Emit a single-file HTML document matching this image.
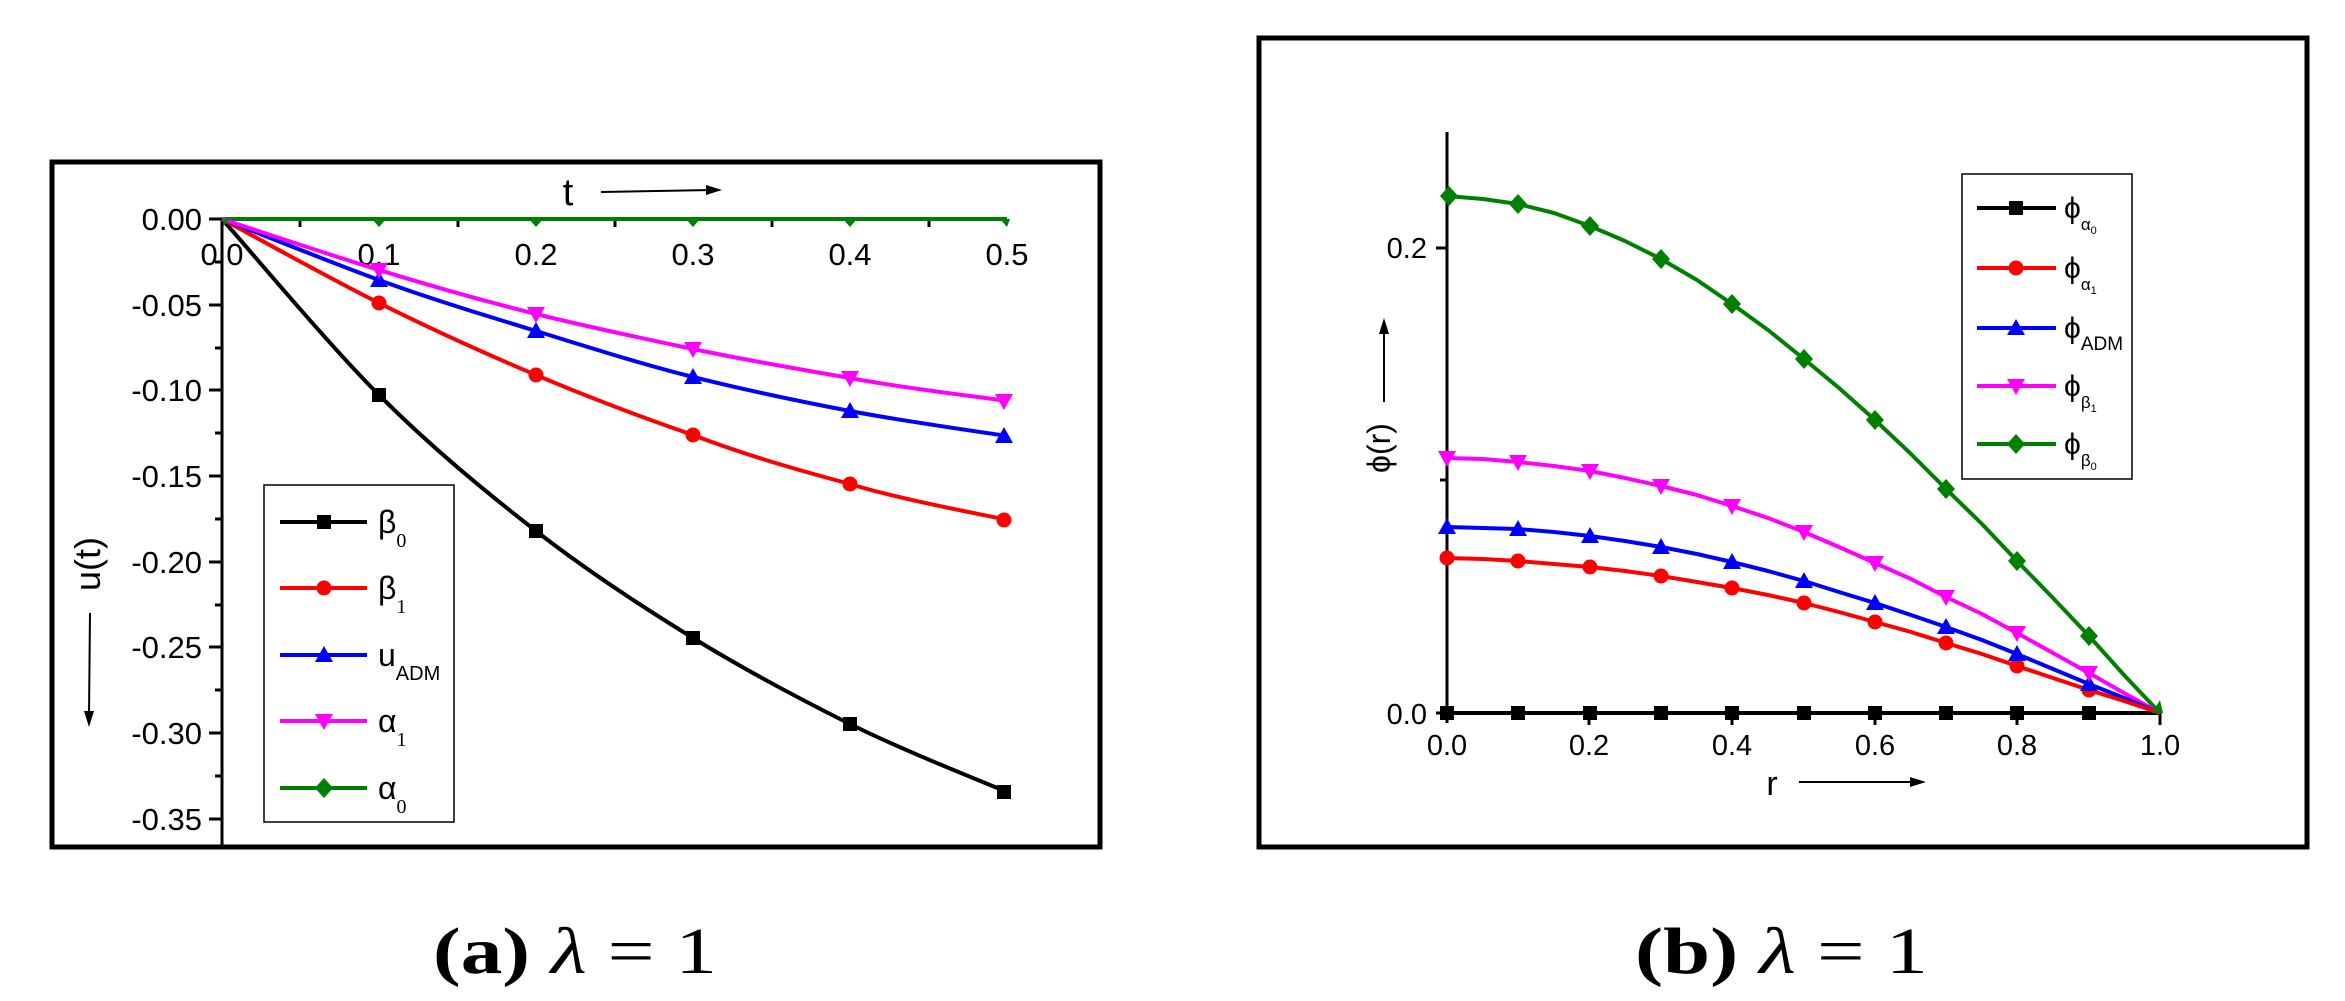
<!DOCTYPE html>
<html><head><meta charset="utf-8"><style>
html,body{margin:0;padding:0;background:#fff;}
svg{display:block;}
text{font-family:"Liberation Sans",sans-serif;}
</style></head><body>
<svg width="2345" height="1001" viewBox="0 0 2345 1001" xmlns="http://www.w3.org/2000/svg">
<defs>
<path id="sq" d="M-7,-7h14v14h-14z"/>
<circle id="ci" r="7.5"/>
<path id="tu" d="M0,-9L9,7H-9z"/>
<path id="td" d="M0,9L9,-7H-9z"/>
<path id="di" d="M0,-10L9,0L0,10L-9,0z"/>
</defs>
<!-- LEFT PANEL -->
<rect x="52" y="162" width="1048" height="685" fill="none" stroke="#000" stroke-width="5"/>
<g stroke="#000" stroke-width="3">
<line x1="222" y1="219" x2="222" y2="847"/>
<line x1="222" y1="219" x2="1007" y2="219"/>
<line x1="209" y1="219" x2="222" y2="219"/><line x1="209" y1="305" x2="222" y2="305"/>
<line x1="209" y1="390" x2="222" y2="390"/><line x1="209" y1="476" x2="222" y2="476"/>
<line x1="209" y1="562" x2="222" y2="562"/><line x1="209" y1="647" x2="222" y2="647"/>
<line x1="209" y1="733" x2="222" y2="733"/><line x1="209" y1="819" x2="222" y2="819"/>
<line x1="215" y1="262" x2="222" y2="262"/><line x1="215" y1="348" x2="222" y2="348"/>
<line x1="215" y1="433" x2="222" y2="433"/><line x1="215" y1="519" x2="222" y2="519"/>
<line x1="215" y1="605" x2="222" y2="605"/><line x1="215" y1="690" x2="222" y2="690"/>
<line x1="215" y1="776" x2="222" y2="776"/>
<line x1="300" y1="219" x2="300" y2="227"/><line x1="458" y1="219" x2="458" y2="227"/>
<line x1="615" y1="219" x2="615" y2="227"/><line x1="772" y1="219" x2="772" y2="227"/>
<line x1="929" y1="219" x2="929" y2="227"/>
<line x1="222" y1="219" x2="222" y2="232"/>
</g>
<g font-size="31" text-anchor="end">
<text x="202" y="230">0.00</text><text x="202" y="316">-0.05</text>
<text x="202" y="401">-0.10</text><text x="202" y="487">-0.15</text>
<text x="202" y="573">-0.20</text><text x="202" y="658">-0.25</text>
<text x="202" y="744">-0.30</text><text x="202" y="830">-0.35</text>
</g>
<g font-size="31" text-anchor="middle">
<text x="222" y="265">0.0</text><text x="379" y="265">0.1</text><text x="536" y="265">0.2</text>
<text x="693" y="265">0.3</text><text x="850" y="265">0.4</text><text x="1007" y="265">0.5</text>
</g>
<text x="568" y="205" font-size="38" text-anchor="middle">t</text>
<line x1="601" y1="192" x2="712" y2="190" stroke="#000" stroke-width="2"/>
<path d="M722,190 L706,185 L706,195z" fill="#000"/>
<text transform="translate(100,564) rotate(-90)" font-size="36" text-anchor="middle">u(t)</text>
<line x1="90" y1="613" x2="89" y2="715" stroke="#000" stroke-width="2"/>
<path d="M89,727 L84,711 L94,711z" fill="#000"/>
<g fill="none" stroke-width="4" stroke-linejoin="round">
<path stroke="#008000" d="M222,219L1007,219"/>
<path stroke="#000" d="M222,219 C248,248 327,343 379,395 C431,447 484,490.5 536,531 C588,571.5 641,606 693,638 C745,670 798,698 850,724 C902,750 981,781 1007,792"/>
<path stroke="#f00" d="M222,219 C248,233 327,277 379,303 C431,329 484,353 536,375 C588,397 641,417 693,435 C745,455 798,470 850,484 C902,500 981,514 1007,520"/>
<path stroke="#00f" d="M222,219 C248,229 327,261 379,280 C431,299 484,315 536,331 C588,347 641,364 693,377 C745,390 798,401 850,411 C902,421 981,432 1007,436"/>
<path stroke="#f0f" d="M222,219 C248,227.5 327,254 379,270 C431,286 484,301 536,314 C588,327 641,338 693,349 C745,360 798,369 850,378 C902,388 981,397 1007,401"/>
</g>
<g fill="#000"><use href="#sq" x="379" y="395"/><use href="#sq" x="536" y="531"/><use href="#sq" x="693" y="638"/><use href="#sq" x="850" y="724"/><use href="#sq" x="1004" y="792"/></g>
<g fill="#f00"><use href="#ci" x="379" y="303"/><use href="#ci" x="536" y="375"/><use href="#ci" x="693" y="435"/><use href="#ci" x="850" y="484"/><use href="#ci" x="1004" y="520"/></g>
<g fill="#00f"><use href="#tu" x="379" y="280"/><use href="#tu" x="536" y="331"/><use href="#tu" x="693" y="377"/><use href="#tu" x="850" y="411"/><use href="#tu" x="1004" y="436"/></g>
<g fill="#f0f"><use href="#td" x="379" y="270"/><use href="#td" x="536" y="314"/><use href="#td" x="693" y="349"/><use href="#td" x="850" y="378"/><use href="#td" x="1004" y="401"/></g>
<g fill="#008000"><path d="M372,219h14l-7,8z"/><path d="M529,219h14l-7,8z"/><path d="M686,219h14l-7,8z"/><path d="M843,219h14l-7,8z"/><path d="M1000,219h10l-3,8z"/><path d="M222,219h8l-6,7z"/></g>
<rect x="264" y="485" width="190" height="337" fill="#fff" stroke="#000" stroke-width="1.5"/>
<g stroke-width="4">
<line x1="280" y1="522" x2="367" y2="522" stroke="#000"/>
<line x1="280" y1="588" x2="367" y2="588" stroke="#f00"/>
<line x1="280" y1="655" x2="367" y2="655" stroke="#00f"/>
<line x1="280" y1="721" x2="367" y2="721" stroke="#f0f"/>
<line x1="280" y1="788" x2="367" y2="788" stroke="#008000"/>
</g>
<use href="#sq" x="324" y="522" fill="#000"/><use href="#ci" x="324" y="588" fill="#f00"/>
<use href="#tu" x="324" y="655" fill="#00f"/><use href="#td" x="324" y="721" fill="#f0f"/>
<use href="#di" x="324" y="788" fill="#008000"/>
<g font-size="32">
<text x="378" y="533">β<tspan font-size="20" style="font-family:'Liberation Serif',serif" dy="14">0</tspan></text>
<text x="378" y="599">β<tspan font-size="20" style="font-family:'Liberation Serif',serif" dy="14">1</tspan></text>
<text x="378" y="666">u<tspan font-size="20" dy="14">ADM</tspan></text>
<text x="378" y="732">α<tspan font-size="20" style="font-family:'Liberation Serif',serif" dy="14">1</tspan></text>
<text x="378" y="799">α<tspan font-size="20" style="font-family:'Liberation Serif',serif" dy="14">0</tspan></text>
</g>

<!-- RIGHT PANEL -->
<rect x="1259" y="38" width="1048" height="809" fill="none" stroke="#000" stroke-width="5"/>
<g stroke="#000" stroke-width="3">
<line x1="1447" y1="132" x2="1447" y2="723"/>
<line x1="1436" y1="713" x2="2160" y2="713"/>
<line x1="1436" y1="248" x2="1447" y2="248"/>
<line x1="1440" y1="480" x2="1447" y2="480"/>
<line x1="1589" y1="713" x2="1589" y2="725"/><line x1="1732" y1="713" x2="1732" y2="725"/>
<line x1="1875" y1="713" x2="1875" y2="725"/><line x1="2017" y1="713" x2="2017" y2="725"/>
<line x1="2160" y1="713" x2="2160" y2="725"/>
<line x1="1518" y1="713" x2="1518" y2="720"/><line x1="1661" y1="713" x2="1661" y2="720"/>
<line x1="1804" y1="713" x2="1804" y2="720"/><line x1="1946" y1="713" x2="1946" y2="720"/>
<line x1="2089" y1="713" x2="2089" y2="720"/>
</g>
<g font-size="29" text-anchor="end"><text x="1427" y="724">0.0</text><text x="1427" y="258">0.2</text></g>
<g font-size="29" text-anchor="middle">
<text x="1447" y="755">0.0</text><text x="1589" y="755">0.2</text><text x="1732" y="755">0.4</text>
<text x="1875" y="755">0.6</text><text x="2017" y="755">0.8</text><text x="2160" y="755">1.0</text>
</g>
<text x="1772" y="795" font-size="34" text-anchor="middle">r</text>
<line x1="1799" y1="782" x2="1914" y2="782" stroke="#000" stroke-width="2"/>
<path d="M1926,782 L1910,777 L1910,787z" fill="#000"/>
<text transform="translate(1390,448) rotate(-90)" font-size="32" text-anchor="middle">ϕ(r)</text>
<line x1="1384" y1="402" x2="1384" y2="330" stroke="#000" stroke-width="2"/>
<path d="M1384,318 L1379,334 L1389,334z" fill="#000"/>
<g fill="none" stroke-width="4" stroke-linejoin="round">
<path stroke="#000" d="M1447,713L2160,713"/>
<polyline stroke="#008000" points="1447,196 1483,199 1518,204 1554,213 1590,226 1625,241 1661,259 1697,280 1732,304 1768,330 1804,359 1839,388 1875,420 1911,454 1946,489 1982,524 2017,561 2053,598 2089,636 2124,675 2160,713"/>
<polyline stroke="#f0f" points="1447,458 1483,459 1518,462 1554,466 1590,471 1625,478 1661,486 1697,495 1732,506 1768,518 1804,532 1839,547 1875,563 1911,579 1946,597 1982,614 2017,633 2053,653 2089,673 2124,693 2160,713"/>
<polyline stroke="#00f" points="1447,527 1483,528 1518,529 1554,532 1590,536 1625,541 1661,547 1697,554 1732,562 1768,571 1804,581 1839,592 1875,603 1911,615 1946,627 1982,640 2017,654 2053,669 2089,684 2124,698 2160,713"/>
<polyline stroke="#f00" points="1447,558 1483,559 1518,561 1554,564 1590,567 1625,571 1661,576 1697,582 1732,588 1768,595 1804,603 1839,612 1875,622 1911,632 1946,643 1982,654 2017,666 2053,678 2089,690 2124,701 2160,713"/>
</g>
<g fill="#000"><use href="#sq" x="1447" y="713"/><use href="#sq" x="1518" y="713"/><use href="#sq" x="1590" y="713"/><use href="#sq" x="1661" y="713"/><use href="#sq" x="1732" y="713"/><use href="#sq" x="1804" y="713"/><use href="#sq" x="1875" y="713"/><use href="#sq" x="1946" y="713"/><use href="#sq" x="2017" y="713"/><use href="#sq" x="2089" y="713"/></g>
<g fill="#f00"><use href="#ci" x="1447" y="558"/><use href="#ci" x="1518" y="561"/><use href="#ci" x="1590" y="567"/><use href="#ci" x="1661" y="576"/><use href="#ci" x="1732" y="588"/><use href="#ci" x="1804" y="603"/><use href="#ci" x="1875" y="622"/><use href="#ci" x="1946" y="643"/><use href="#ci" x="2017" y="666"/><use href="#ci" x="2089" y="690"/></g>
<g fill="#00f"><use href="#tu" x="1447" y="527"/><use href="#tu" x="1518" y="529"/><use href="#tu" x="1590" y="536"/><use href="#tu" x="1661" y="547"/><use href="#tu" x="1732" y="562"/><use href="#tu" x="1804" y="581"/><use href="#tu" x="1875" y="603"/><use href="#tu" x="1946" y="627"/><use href="#tu" x="2017" y="654"/><use href="#tu" x="2089" y="684"/></g>
<g fill="#f0f"><use href="#td" x="1447" y="458"/><use href="#td" x="1518" y="462"/><use href="#td" x="1590" y="471"/><use href="#td" x="1661" y="486"/><use href="#td" x="1732" y="506"/><use href="#td" x="1804" y="532"/><use href="#td" x="1875" y="563"/><use href="#td" x="1946" y="597"/><use href="#td" x="2017" y="633"/><use href="#td" x="2089" y="673"/></g>
<g fill="#008000"><use href="#di" x="1449" y="196"/><use href="#di" x="1518" y="204"/><use href="#di" x="1590" y="226"/><use href="#di" x="1661" y="259"/><use href="#di" x="1732" y="304"/><use href="#di" x="1804" y="359"/><use href="#di" x="1875" y="420"/><use href="#di" x="1946" y="489"/><use href="#di" x="2017" y="561"/><use href="#di" x="2089" y="636"/><path d="M2152,713L2160,700L2163,713z"/></g>
<rect x="1962" y="174" width="170" height="305" fill="#fff" stroke="#000" stroke-width="1.5"/>
<g stroke-width="4">
<line x1="1977" y1="208" x2="2056" y2="208" stroke="#000"/>
<line x1="1977" y1="268" x2="2056" y2="268" stroke="#f00"/>
<line x1="1977" y1="328" x2="2056" y2="328" stroke="#00f"/>
<line x1="1977" y1="386" x2="2056" y2="386" stroke="#f0f"/>
<line x1="1977" y1="444" x2="2056" y2="444" stroke="#008000"/>
</g>
<use href="#sq" x="2016" y="208" fill="#000"/><use href="#ci" x="2016" y="268" fill="#f00"/>
<use href="#tu" x="2016" y="328" fill="#00f"/><use href="#td" x="2016" y="386" fill="#f0f"/>
<use href="#di" x="2016" y="444" fill="#008000"/>
<g font-size="30">
<text x="2064" y="218">ϕ<tspan font-size="17" dy="12">α</tspan><tspan font-size="11" dy="4">0</tspan></text>
<text x="2064" y="278">ϕ<tspan font-size="17" dy="12">α</tspan><tspan font-size="11" dy="4">1</tspan></text>
<text x="2064" y="338">ϕ<tspan font-size="19" dy="12">ADM</tspan></text>
<text x="2064" y="396">ϕ<tspan font-size="17" dy="12">β</tspan><tspan font-size="11" dy="4">1</tspan></text>
<text x="2064" y="454">ϕ<tspan font-size="17" dy="12">β</tspan><tspan font-size="11" dy="4">0</tspan></text>
</g>

<text x="433" y="973" font-size="66" style="font-family:'Liberation Serif',serif" textLength="284" lengthAdjust="spacingAndGlyphs"><tspan font-weight="bold">(a)</tspan> <tspan font-style="italic">λ</tspan> = 1</text>
<text x="1635" y="973" font-size="66" style="font-family:'Liberation Serif',serif" textLength="293" lengthAdjust="spacingAndGlyphs"><tspan font-weight="bold">(b)</tspan> <tspan font-style="italic">λ</tspan> = 1</text>
</svg>
</body></html>
